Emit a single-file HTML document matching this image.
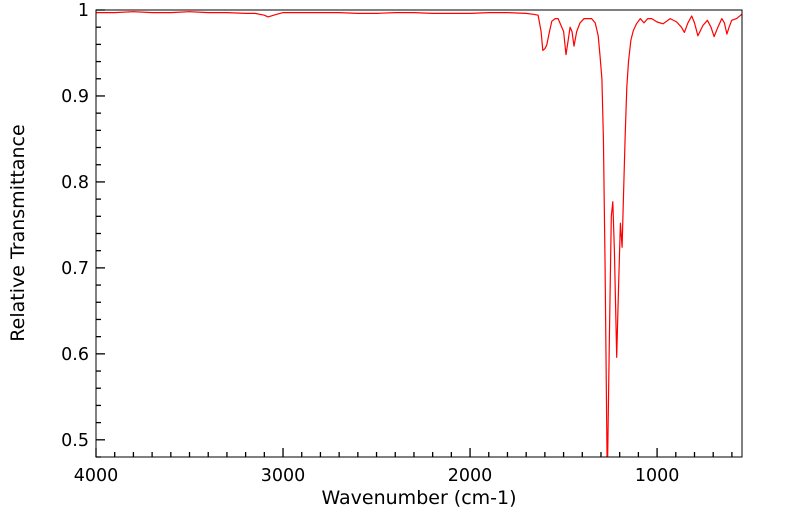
<!DOCTYPE html>
<html><head><meta charset="utf-8"><style>
body{margin:0;background:#fff;}
svg{display:block;font-family:"DejaVu Sans","Liberation Sans",sans-serif;}
</style></head><body>
<svg id="chart" width="799" height="516" viewBox="0 0 799 516">
<defs><clipPath id="plotclip"><rect x="96" y="10" width="646" height="447"/></clipPath></defs>
<rect x="96" y="10" width="646" height="447" fill="#fff"/>
<g id="ticks"></g>
<g id="labels"></g>
<polyline id="line" fill="none" stroke="#ff0000" stroke-width="1.2" stroke-linejoin="round" clip-path="url(#plotclip)"/>
<rect x="96" y="10" width="646" height="447" fill="none" stroke="#000" stroke-width="1"/>
<text x="419" y="504" font-size="19" text-anchor="middle">Wavenumber (cm-1)</text>
<text transform="translate(24,233) rotate(-90)" font-size="19" text-anchor="middle">Relative Transmittance</text>
</svg>
<script>
const wavenumbers = [4000,3900,3800,3700,3600,3500,3400,3300,3200,3150,3100,3080,3050,3000,2900,2800,2700,2600,2500,2400,2300,2200,2100,2000,1900,1800,1700,1660,1636,1620,1611,1600,1590,1575,1563,1545,1529,1500,1487,1475,1465,1455,1444,1430,1412,1390,1367,1350,1331,1315,1305,1295,1287,1278,1266,1255,1245,1237,1228,1216,1206,1196,1187,1180,1171,1162,1153,1140,1127,1110,1090,1070,1050,1029,1000,968,930,895,870,854,835,815,800,782,755,731,712,695,675,654,640,627,615,601,575,547];
const transmittance = [0.997,0.997,0.998,0.997,0.997,0.998,0.997,0.997,0.996,0.996,0.994,0.992,0.994,0.997,0.997,0.997,0.997,0.996,0.996,0.997,0.997,0.996,0.996,0.996,0.997,0.997,0.996,0.995,0.994,0.975,0.953,0.955,0.959,0.975,0.987,0.99,0.99,0.975,0.948,0.965,0.98,0.975,0.958,0.975,0.985,0.99,0.99,0.99,0.985,0.97,0.947,0.92,0.851,0.7,0.45,0.62,0.76,0.777,0.72,0.596,0.68,0.752,0.724,0.78,0.851,0.91,0.94,0.965,0.976,0.984,0.99,0.985,0.99,0.99,0.986,0.984,0.99,0.986,0.98,0.974,0.985,0.993,0.985,0.97,0.982,0.988,0.98,0.969,0.98,0.99,0.985,0.972,0.98,0.988,0.99,0.995];
const xTickValues = [4000,3000,2000,1000];
const xTickLabels = ["4000","3000","2000","1000"];
const yTickValues = [0.5,0.6,0.7,0.8,0.9,1.0];
const yTickLabels = ["0.5","0.6","0.7","0.8","0.9","1"];

const L=96,R=742,T=10,B=457, xMax=4000,xMin=546, yMin=0.48,yMax=1.0;
const xs = v => L + (xMax - v) / (xMax - xMin) * (R - L);
const ys = v => B - (v - yMin) / (yMax - yMin) * (B - T);
const NS="http://www.w3.org/2000/svg";

document.getElementById('line').setAttribute('points', wavenumbers.map((w,i)=>xs(w).toFixed(1)+','+ys(transmittance[i]).toFixed(1)).join(' '));

const tg=document.getElementById('ticks'), lg=document.getElementById('labels');
function ln(x1,y1,x2,y2,name){const l=document.createElementNS(NS,'line');
l.setAttribute('x1',x1);l.setAttribute('y1',y1);l.setAttribute('x2',x2);l.setAttribute('y2',y2);
l.setAttribute('stroke','#000');l.setAttribute('stroke-width','1.3');


tg.appendChild(l);}
for(let w=4000; w>=xMin; w-=100){const x=xs(w); const major=w%1000===0; ln(x,B,x,B-(major?9:5), major?'x-major-tick':'x-minor-tick');}
for(let v=0.48; v<=1.0001; v+=0.02){const y=ys(v); const major=Math.abs(v*10-Math.round(v*10))<1e-6; ln(L,y,L+(major?9:5),y, major?'y-major-tick':'y-minor-tick');}
function tx(x,y,s,anchor,name){const t=document.createElementNS(NS,'text');
t.setAttribute('x',x);t.setAttribute('y',y);t.setAttribute('font-size','17.5');t.setAttribute('text-anchor',anchor);t.textContent=s;


lg.appendChild(t);}
xTickValues.forEach((v,i)=>tx(xs(v),481,xTickLabels[i],'middle','x-tick-label'));
yTickValues.forEach((v,i)=>tx(89,ys(v)+6,yTickLabels[i],'end','y-tick-label'));
</script>
</body></html>
